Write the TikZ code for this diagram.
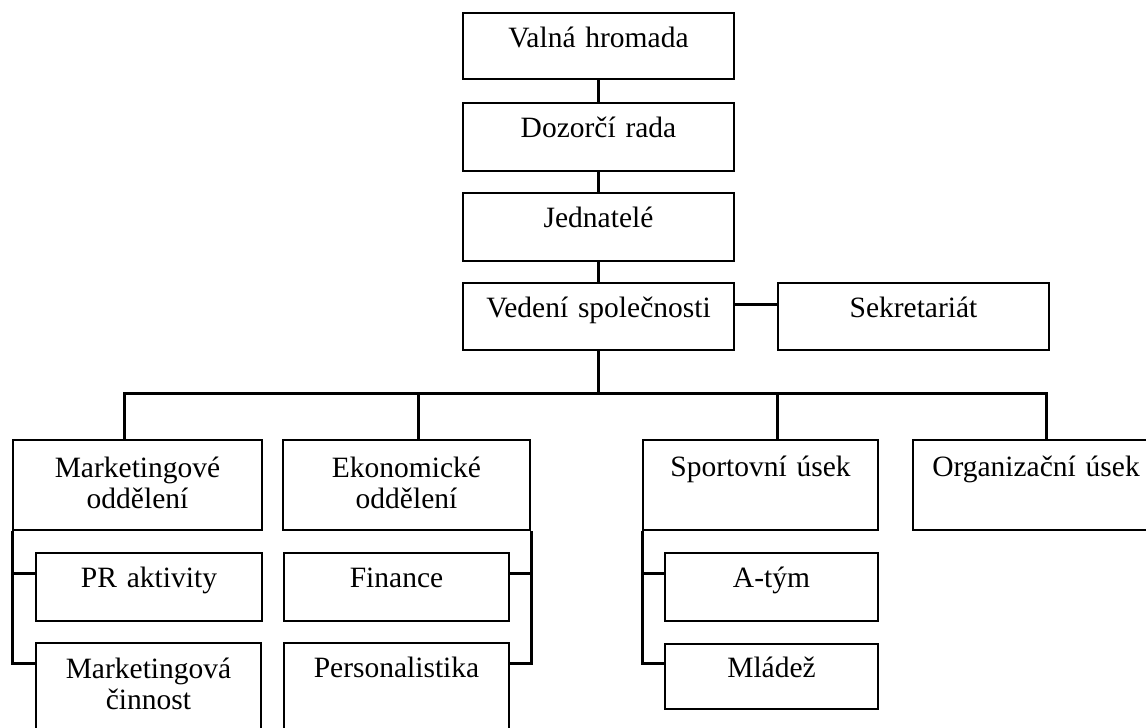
\documentclass[tikz,border=0pt]{standalone}
\usepackage{fontspec}
\setmainfont{Liberation Serif}
\begin{document}
\begin{tikzpicture}[x=1pt, y=-1pt,
    box/.style={draw, line width=2pt, anchor=north west, inner sep=0pt,
        align=center, text height=34pt,
        font=\fontsize{29.5}{31}\selectfont},
    link/.style={line width=3pt}]
    \clip (0,0) rectangle (1146,728);
    % vedeni
    \node[box, text width=271pt, text depth=32pt] (vh) at (462,12) {Valná hromada};
    \node[box, text width=271pt, text depth=34pt] (dr) at (462,102) {Dozorčí rada};
    \node[box, text width=271pt, text depth=34pt] (jd) at (462,192) {Jednatelé};
    \node[box, text width=271pt, text depth=33pt] (vs) at (462,282) {Vedení společnosti};
    \node[box, text width=271pt, text depth=33pt] (sek) at (777,282) {Sekretariát};
    % useky
    \node[box, text width=249pt, text height=37pt, text depth=53pt] (mo) at (12,439) {Marketingové\\oddělení};
    \node[box, text width=247pt, text height=37pt, text depth=53pt] (eo) at (282,439) {Ekonomické\\oddělení};
    \node[box, text width=235pt, text height=36pt, text depth=54pt] (su) at (642,439) {Sportovní úsek};
    \node[box, text width=246pt, text height=36pt, text depth=54pt] (ou) at (912,439) {Organizační úsek};
    % oddeleni
    \node[box, text width=226pt, text depth=34pt] (pr) at (35,552) {PR aktivity};
    \node[box, text width=225pt, text height=35pt, text depth=63pt] (mc) at (35,642) {Marketingová\\činnost};
    \node[box, text width=225pt, text depth=34pt] (fi) at (283,552) {Finance};
    \node[box, text width=225pt, text depth=64pt] (pe) at (283,642) {Personalistika};
    \node[box, text width=213pt, text depth=34pt] (at) at (664,552) {A-tým};
    \node[box, text width=213pt, text height=33pt, text depth=32pt] (ml) at (664,643) {Mládež};
    % spojnice
    \draw[link] (vh) -- (dr);
    \draw[link] (dr) -- (jd);
    \draw[link] (jd) -- (vs);
    \draw[link] ([yshift=12.5pt]vs.east) -- ([yshift=12.5pt]sek.west);
    \coordinate (bus) at (vs.south |- 0,393);
    \draw[link] (vs.south) -- (bus);
    \draw[link] ([xshift=-13.5pt]mo.north) |- (bus) -| ([xshift=10pt]ou.north);
    \draw[link] ([xshift=11.5pt]eo.north) -- ([xshift=11.5pt]eo.north |- bus);
    \draw[link] ([xshift=16.5pt]su.north) -- ([xshift=16.5pt]su.north |- bus);
    \draw[link] (mo.south west) |- ([yshift=-21pt]pr.north west)
                (mo.south west) |- ([yshift=-21pt]mc.north west);
    \draw[link] (eo.south east) |- ([yshift=-21pt]fi.north east)
                (eo.south east) |- ([yshift=-21pt]pe.north east);
    \draw[link] (su.south west) |- ([yshift=-21pt]at.north west)
                (su.south west) |- ([yshift=-20pt]ml.north west);
\end{tikzpicture}
\end{document}
